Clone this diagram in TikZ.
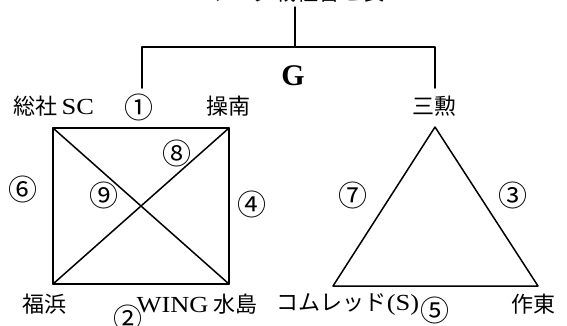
\documentclass[tikz,border=0pt]{standalone}
\usepackage{fontspec}
\setmainfont{Liberation Serif}
\newfontfamily\jpfont{Noto Sans CJK JP}
\usetikzlibrary{calc}

\begin{document}
\begin{tikzpicture}[x=1pt, y=-1pt, line cap=round, line join=round,
  team/.style={font=\jpfont\fontsize{22}{22}\selectfont, inner sep=0pt},
  num/.style={font=\jpfont\fontsize{29}{29}\selectfont, inner sep=0pt},
  edge/.style={line width=1.5pt}]

\newcommand\lat[1]{\scalebox{1.15}[1]{\rmfamily\fontsize{23}{23}\selectfont #1}}

\useasboundingbox (0,0) rectangle (567,325);

% Title (cut off at the top)
\node[team, anchor=base] (title) at (296,0) {リーグ戦組合せ表};

% Bracket
\coordinate (stem) at (295,7);
\coordinate (mid) at (295,47);
\coordinate (barL) at (142,47);
\coordinate (barR) at (435,47);
\coordinate (legL) at (142,88);
\coordinate (legR) at (435,88);
\draw[edge] (stem) -- (mid);
\draw[edge] (legL) -- (barL) -- (barR) -- (legR);
\node[font=\rmfamily\bfseries\fontsize{30}{30}\selectfont, inner sep=0pt] (grp) at (293,76) {G};

% Square group
\coordinate (soja) at (53,128);
\coordinate (sonan) at (229,128);
\coordinate (fukuhama) at (53,284);
\coordinate (wing) at (229,284);
\draw[edge] (soja) -- (sonan) -- (wing) -- (fukuhama) -- cycle;
\draw[edge] (soja) -- (wing);
\draw[edge] (sonan) -- (fukuhama);

\node[team] (sojaL) at (54,106) {総社\,\lat{SC}};
\node[team] (sonanL) at (228,106) {操南};
\node[team] (fukuhamaL) at (44,304) {福浜};
\node[team] (wingL) at (197,304) {\lat{WING} 水島};

\node[num] (n1) at (139,107) {①};
\node[num] (n6) at (23,189) {⑥};
\node[num] (n9) at (104,195) {⑨};
\node[num] (n8) at (177,153) {⑧};
\node[num] (n4) at (252,204) {④};
\node[num] (n2) at (128,318) {②};

% Triangle group
\coordinate (sanku) at (435,127);
\coordinate (comred) at (333,286);
\coordinate (sakuto) at (538,286);
\draw[edge] (sanku) -- (sakuto) -- (comred) -- cycle;

\node[team] (sankuL) at (434,106) {三勲};
\node[team] (comredL) at (348,304) {コムレッド\lat{(S)}};
\node[team] (sakutoL) at (533,304) {作東};

\node[num] (n7) at (353,195) {⑦};
\node[num] (n3) at (513,195) {③};
\node[num] (n5) at (435,310) {⑤};

\end{tikzpicture}
\end{document}
